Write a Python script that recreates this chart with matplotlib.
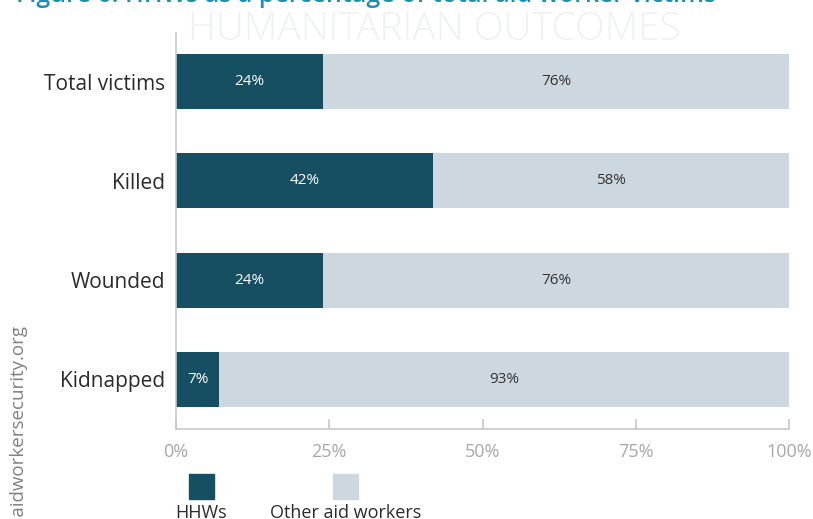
import matplotlib.pyplot as plt
from matplotlib.patches import Rectangle

categories = ["Total victims", "Killed", "Wounded", "Kidnapped"]
hhw_pct = [24, 42, 24, 7]
other_pct = [76, 58, 76, 93]
series_names = ["HHWs", "Other aid workers"]
xticks = [0, 25, 50, 75, 100]

dark = "#174f62"
light = "#cdd7df"
axis_grey = "#c8c8c8"

plt.rcParams['font.family'] = ['Open Sans', 'DejaVu Sans']

fig = plt.figure(figsize=(8.13, 5.19), dpi=100)
ax = fig.add_axes([0.2165, 0.1734, 0.754, 0.763])

y = list(range(len(categories)))
ax.barh(y, hhw_pct, height=0.555, color=dark)
ax.barh(y, other_pct, left=hhw_pct, height=0.555, color=light)

for i in y:
    ax.text(hhw_pct[i] / 2, i, f"{hhw_pct[i]}%", ha='center', va='center',
            color='white', fontsize=11)
    ax.text(hhw_pct[i] + other_pct[i] / 2, i, f"{other_pct[i]}%", ha='center',
            va='center', color='#333333', fontsize=11)

ax.set_ylim(3.5, -0.49)
ax.set_xlim(0, 100)
ax.set_yticks(y)
ax.set_yticklabels(categories, fontsize=15, color='#2b2b2b')
ax.set_xticks(xticks)
ax.set_xticklabels([f"{t}%" for t in xticks], fontsize=13, color='#a8a8a8')
ax.tick_params(axis='y', length=0, pad=8)
ax.tick_params(axis='x', direction='in', length=7.5, width=1.2,
               color=axis_grey, pad=10)
for side in ['top', 'right']:
    ax.spines[side].set_visible(False)
for side in ['left', 'bottom']:
    ax.spines[side].set_color(axis_grey)
    ax.spines[side].set_linewidth(1.2)
ax.set_zorder(2)
ax.patch.set_alpha(0)

# cropped heading and watermark
fig.text(0.02, 0.996, "Figure 6: HHWs as a percentage of total aid worker victims",
         color='#1b8fb2', fontsize=18, fontweight='semibold', va='baseline')
fig.text(0.534, 0.942, "HUMANITARIAN OUTCOMES", color='#eef2f2', fontsize=28,
         fontweight='light', ha='center', va='center', zorder=0)

fig.text(0.023, 0.374, "www.aidworkersecurity.org", rotation=90, ha='center',
         va='top', color='#808080', fontsize=13.5)

# legend squares with labels underneath
W, H = 813, 519
for cx, name, col in [(201.5, series_names[0], dark), (345.5, series_names[1], light)]:
    fig.add_artist(Rectangle(((cx - 12.5) / W, 1 - 499 / H), 25 / W, 25 / H,
                             transform=fig.transFigure, color=col))
    fig.text(cx / W, 1 - 504 / H, name, ha='center', va='top', fontsize=13,
             color='#2b2b2b')

fig.savefig("out.png", dpi=100)
